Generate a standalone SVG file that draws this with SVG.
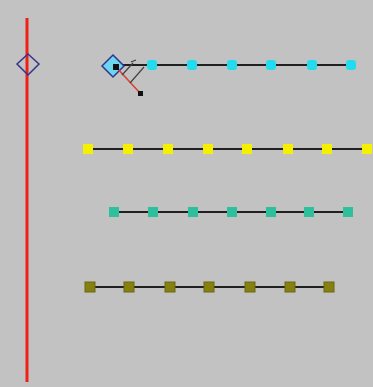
<svg xmlns="http://www.w3.org/2000/svg" width="373" height="387" viewBox="0 0 373 387">
<style>
.ln{stroke:#202020;stroke-width:2;fill:none}
.cy{fill:#22dcee}
.ye{fill:#f4f000}
.te{fill:#2ebf9c}
.ol{fill:#858010;stroke:#6a6610;stroke-width:1}
.dia{stroke:#34348c;stroke-width:1.5}
.pt{fill:#111}
.dim{stroke:#404040;stroke-width:1.2;fill:none}
</style>
<rect x="0" y="0" width="373" height="387" fill="#c2c2c2"/>
<g id="connectors">
<line class="ln" x1="116" y1="65" x2="351" y2="65"/>
<line class="ln" x1="88" y1="149" x2="367" y2="149"/>
<line class="ln" x1="114" y1="212" x2="348" y2="212"/>
<line class="ln" x1="90" y1="287" x2="329" y2="287"/>
</g>
<g id="axis">
<line x1="27" y1="18" x2="27" y2="382" stroke="#f02018" stroke-width="3"/>
<polygon class="dia" points="28,54 39,64 28,75 17,64" fill="none"/>
</g>
<g id="origin">
<polygon class="dia" points="113,55 124,66 113,77 102,66" fill="#6cd6ee"/>
<line x1="116" y1="67" x2="140" y2="93" stroke="#e03a30" stroke-width="1.5"/>
<line class="dim" x1="122" y1="75" x2="133" y2="63"/>
<line class="dim" x1="130" y1="83" x2="144" y2="67"/>
<line class="dim" x1="131" y1="62" x2="136" y2="60"/>
<rect class="pt" x="113" y="64" width="6" height="6"/>
<rect class="pt" x="138" y="91" width="5" height="5"/>
</g>
<g id="row-cyan">
<rect class="cy" x="147" y="60" width="10" height="10" rx="3"/>
<rect class="cy" x="187" y="60" width="10" height="10" rx="3"/>
<rect class="cy" x="227" y="60" width="10" height="10" rx="3"/>
<rect class="cy" x="266" y="60" width="10" height="10" rx="3"/>
<rect class="cy" x="307" y="60" width="10" height="10" rx="3"/>
<rect class="cy" x="346" y="60" width="10" height="10" rx="3"/>
</g>
<g id="row-yellow">
<rect class="ye" x="83" y="144" width="10" height="10"/>
<rect class="ye" x="123" y="144" width="10" height="10"/>
<rect class="ye" x="163" y="144" width="10" height="10"/>
<rect class="ye" x="203" y="144" width="10" height="10"/>
<rect class="ye" x="242" y="144" width="10" height="10"/>
<rect class="ye" x="283" y="144" width="10" height="10"/>
<rect class="ye" x="322" y="144" width="10" height="10"/>
<rect class="ye" x="362" y="144" width="10" height="10"/>
</g>
<g id="row-teal">
<rect class="te" x="109" y="207" width="10" height="10"/>
<rect class="te" x="148" y="207" width="10" height="10"/>
<rect class="te" x="188" y="207" width="10" height="10"/>
<rect class="te" x="227" y="207" width="10" height="10"/>
<rect class="te" x="266" y="207" width="10" height="10"/>
<rect class="te" x="304" y="207" width="10" height="10"/>
<rect class="te" x="343" y="207" width="10" height="10"/>
</g>
<g id="row-olive">
<rect class="ol" x="85" y="282" width="10" height="10"/>
<rect class="ol" x="124" y="282" width="10" height="10"/>
<rect class="ol" x="165" y="282" width="10" height="10"/>
<rect class="ol" x="204" y="282" width="10" height="10"/>
<rect class="ol" x="245" y="282" width="10" height="10"/>
<rect class="ol" x="285" y="282" width="10" height="10"/>
<rect class="ol" x="324" y="282" width="10" height="10"/>
</g>
</svg>
